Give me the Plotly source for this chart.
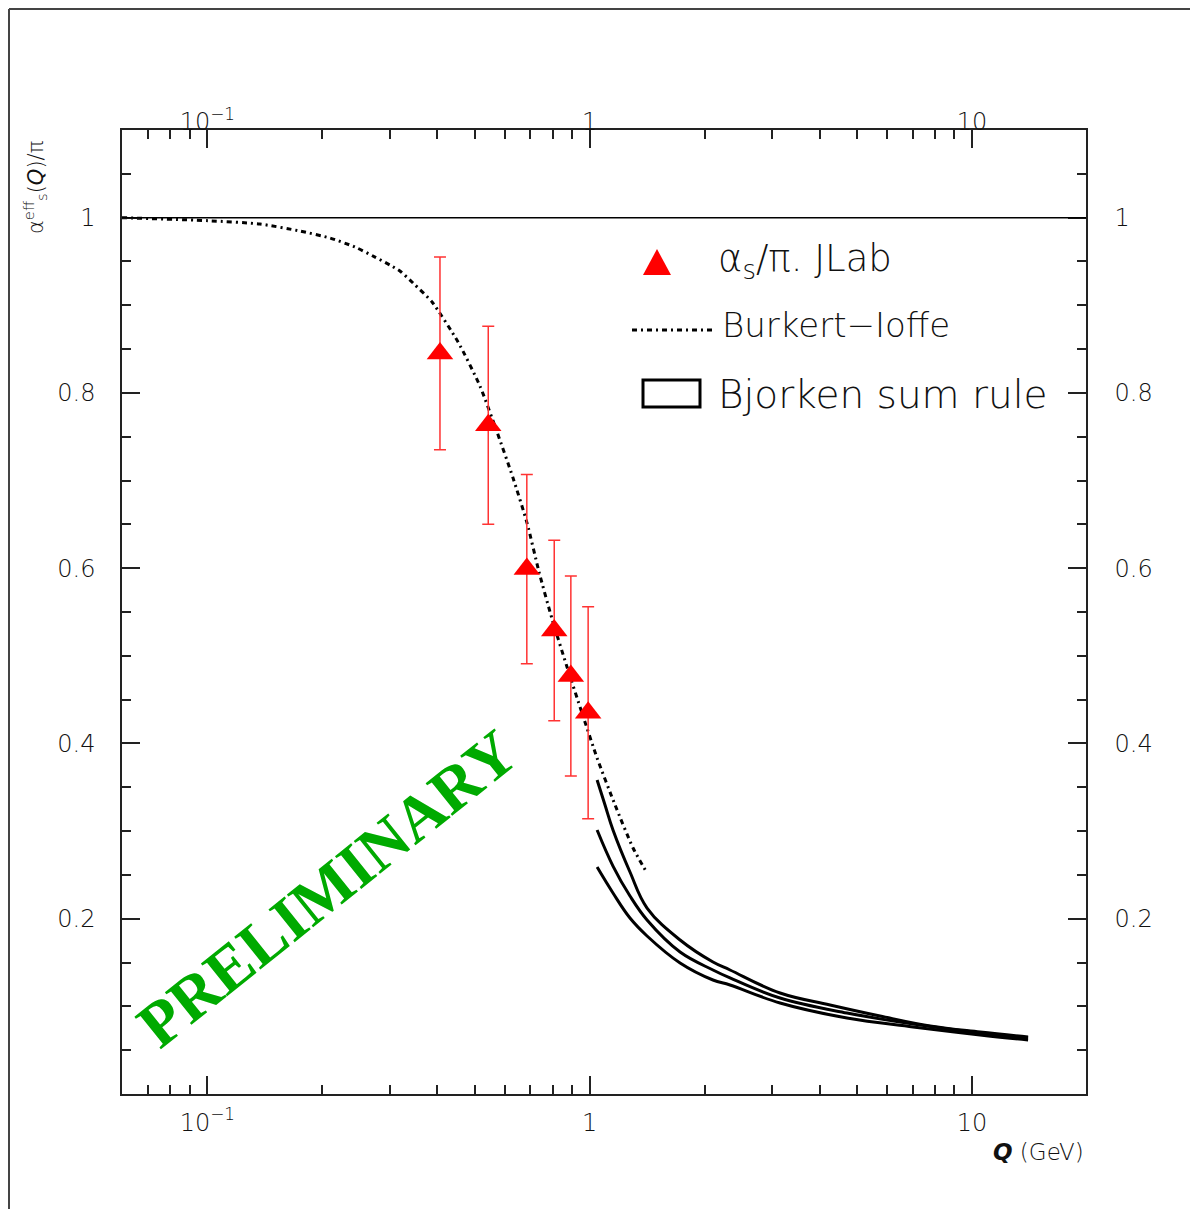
import plotly.graph_objects as go

# ---------------- data ----------------
# JLab points: Q (GeV), alpha_s/pi, error
q_jlab = [0.406, 0.543, 0.685, 0.808, 0.893, 0.991]
a_jlab = [0.845, 0.763, 0.599, 0.529, 0.477, 0.435]
e_jlab = [0.110, 0.113, 0.108, 0.103, 0.114, 0.121]

# Burkert-Ioffe curve
q_bi = [0.0598, 0.1004, 0.1373, 0.1748, 0.2094, 0.2433, 0.2746, 0.3005, 0.3191, 0.3452,
        0.3871, 0.4527, 0.5166, 0.5726, 0.6305, 0.6860, 0.7374, 0.7975, 0.8727, 0.9552,
        1.0457, 1.1654, 1.2988, 1.4131]
a_bi = [1.000, 0.9965, 0.9927, 0.9847, 0.9767, 0.9665, 0.9550, 0.9459, 0.9391, 0.9254,
        0.9037, 0.8581, 0.8078, 0.7553, 0.7029, 0.6515, 0.5956, 0.5420, 0.4872, 0.4347,
        0.3834, 0.3298, 0.2807, 0.2522]

# Bjorken sum rule: upper, central, lower curves
q_bj_up = [1.046, 1.097, 1.151, 1.275, 1.413, 1.724, 2.102, 2.329, 3.148, 4.254, 5.748, 7.769, 10.50, 14.02]
a_bj_up = [0.3583, 0.3298, 0.3012, 0.2533, 0.2122, 0.1757, 0.1506, 0.1415, 0.1152, 0.1016, 0.0890, 0.0776, 0.0707, 0.0650]
q_bj_mid = [1.046, 1.151, 1.275, 1.413, 1.724, 2.102, 2.329, 3.148, 4.711, 7.013, 10.50, 14.02]
a_bj_mid = [0.3012, 0.2601, 0.2259, 0.1985, 0.1620, 0.1415, 0.1324, 0.1095, 0.0924, 0.0799, 0.0696, 0.0639]
q_bj_lo = [1.046, 1.151, 1.275, 1.413, 1.724, 2.102, 2.329, 3.148, 4.711, 7.013, 10.50, 14.02]
a_bj_lo = [0.2590, 0.2294, 0.2008, 0.1803, 0.1495, 0.1301, 0.1244, 0.1038, 0.0867, 0.0765, 0.0673, 0.0616]

x_tickvals = [0.1, 1, 10]
x_ticktext = ["10<sup>−1</sup>", "1", "10"]
x_minor = [0.06, 0.07, 0.08, 0.09, 0.2, 0.3, 0.4, 0.5, 0.6, 0.7, 0.8, 0.9,
           2, 3, 4, 5, 6, 7, 8, 9]
y_tickvals = [0.2, 0.4, 0.6, 0.8, 1.0]
y_ticktext = ["0.2", "0.4", "0.6", "0.8", "1"]
y_minor = [0.05, 0.1, 0.15, 0.25, 0.3, 0.35, 0.45, 0.5, 0.55, 0.65, 0.7, 0.75,
           0.85, 0.9, 0.95, 1.05]

# ---------------- layout helpers ----------------
# page has an 8px body margin; work in page pixel coordinates
OFF = 8
W, H = 1198 - OFF, 1209 - OFF
L, R, T, B = 122, 1086, 130, 1094          # page coordinates of plot area
PW, PH = R - L, B - T


def px(x):
    return (x - L) / PW


def py(y):
    return (B - y) / PH


AX = "#111111"
FONT = "DejaVu Sans"

fig = go.Figure()

fig.add_trace(go.Scatter(
    x=q_bi, y=a_bi, mode="lines",
    line=dict(color="black", width=3, dash="5px,4px,2px,4px", shape="spline", smoothing=0.6),
    hoverinfo="skip"))
for qq, aa in [(q_bj_up, a_bj_up), (q_bj_mid, a_bj_mid), (q_bj_lo, a_bj_lo)]:
    fig.add_trace(go.Scatter(x=qq, y=aa, mode="lines",
                             line=dict(color="black", width=3, shape="spline", smoothing=1.1),
                             hoverinfo="skip"))
fig.add_trace(go.Scatter(
    x=q_jlab, y=a_jlab, mode="markers",
    marker=dict(symbol="triangle-up", size=23, color="#ff0000", line=dict(width=0)),
    error_y=dict(type="data", array=e_jlab, visible=True, color="#ff3333", thickness=1.5, width=6)))
# invisible trace to activate the mirrored axes
fig.add_trace(go.Scatter(x=q_bi, y=a_bi, xaxis="x2", yaxis="y2", mode="lines",
                         line=dict(width=0), opacity=0, hoverinfo="skip"))

xrange = [-1.2231, 1.2982]
common_x = dict(type="log", range=xrange, tickmode="array", tickvals=x_tickvals, ticktext=x_ticktext,
                ticks="inside", ticklen=18, tickwidth=1.5, tickcolor="#222222", showline=True,
                linecolor="#222222", linewidth=1.5, showgrid=False, zeroline=False,
                tickfont=dict(family=FONT, size=24, color=AX, weight=300),
                minor=dict(tickmode="array", tickvals=x_minor, ticks="inside", ticklen=9,
                           tickwidth=1.5, tickcolor="#222222", showgrid=False))
common_y = dict(range=[0, 1.1], tickmode="array", tickvals=y_tickvals, ticktext=y_ticktext,
                ticks="inside", ticklen=18, tickwidth=1.5, tickcolor="#222222", showline=True,
                linecolor="#222222", linewidth=1.5, showgrid=False, zeroline=False,
                tickfont=dict(family=FONT, size=24, color=AX, weight=300),
                minor=dict(tickmode="array", tickvals=y_minor, ticks="inside", ticklen=9,
                           tickwidth=1.5, tickcolor="#222222", showgrid=False))

fig.update_layout(
    width=W, height=H,
    margin=dict(l=L - OFF, r=1198 - R, t=T - OFF, b=1209 - B, pad=0),
    plot_bgcolor="white", paper_bgcolor="white",
    showlegend=False,
    font=dict(family=FONT, color=AX),
    xaxis=dict(**common_x, side="bottom", ticklabelstandoff=6, anchor="y"),
    xaxis2=dict(**common_x, side="top", overlaying="x", anchor="y", ticklabelstandoff=-11),
    yaxis=dict(**common_y, side="left", ticklabelstandoff=20, anchor="x"),
    yaxis2=dict(**common_y, side="right", overlaying="y", anchor="x", ticklabelstandoff=22),
)

shapes = []
# horizontal line at 1
shapes.append(dict(type="line", xref="paper", x0=0, x1=1, yref="y", y0=1, y1=1,
                   line=dict(color="black", width=1.5)))
# outer frame (top and left edges)
shapes.append(dict(type="line", xref="paper", yref="paper", x0=px(OFF + 1), x1=px(1198), y0=py(9), y1=py(9),
                   line=dict(color="#444444", width=2)))
shapes.append(dict(type="line", xref="paper", yref="paper", x0=px(OFF + 1), x1=px(OFF + 1), y0=py(9), y1=py(1209),
                   line=dict(color="#444444", width=2)))
# legend symbols
shapes.append(dict(type="path", xref="paper", yref="paper",
                   path=f"M {px(643)},{py(275)} L {px(671)},{py(275)} L {px(657)},{py(249)} Z",
                   fillcolor="#ff0000", line=dict(width=0)))
shapes.append(dict(type="line", xref="paper", yref="paper", x0=px(632), x1=px(712), y0=py(330), y1=py(330),
                   line=dict(color="black", width=3, dash="5px,4px,2px,4px")))
shapes.append(dict(type="rect", xref="paper", yref="paper", x0=px(643), x1=px(700), y0=py(380), y1=py(407),
                   line=dict(color="black", width=3)))
fig.update_layout(shapes=shapes)

ann = []
ann.append(dict(xref="paper", yref="paper", x=px(716), y=py(261), xanchor="left", yanchor="middle",
                text="α<sub>s</sub>/π. JLab", showarrow=False,
                font=dict(family=FONT, size=37, color=AX, weight=300)))
ann.append(dict(xref="paper", yref="paper", x=px(720), y=py(325), xanchor="left", yanchor="middle",
                text="Burkert−Ioffe", showarrow=False,
                font=dict(family=FONT, size=34, color=AX, weight=300)))
ann.append(dict(xref="paper", yref="paper", x=px(716), y=py(394), xanchor="left", yanchor="middle",
                text="Bjorken sum rule", showarrow=False,
                font=dict(family=FONT, size=39, color=AX, weight=300)))
ann.append(dict(xref="paper", yref="paper", x=px(327), y=py(888), xanchor="center", yanchor="middle",
                text="<b>PRELIMINARY</b>", showarrow=False, textangle=-38.7,
                font=dict(family="Liberation Serif", size=64, color="#00aa00")))
ann.append(dict(xref="paper", yref="paper", x=px(35), y=py(187), xanchor="center", yanchor="middle",
                text="α<sup>eff</sup><sub>s</sub>(<i>Q</i>)/π", showarrow=False, textangle=-90,
                font=dict(family=FONT, size=21, color=AX, weight=300)))
ann.append(dict(xref="paper", yref="paper", x=px(1086), y=py(1152), xanchor="right", yanchor="middle",
                text="<b><i>Q</i></b> (GeV)", showarrow=False,
                font=dict(family=FONT, size=23, color=AX, weight=300)))
fig.update_layout(annotations=ann)

fig.write_html("out.html")
